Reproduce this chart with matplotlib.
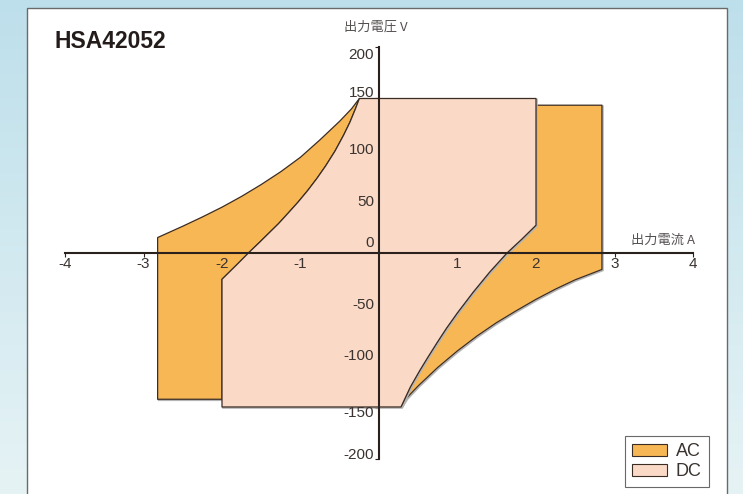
import numpy as np
import matplotlib
matplotlib.use("Agg")
import matplotlib.pyplot as plt
from matplotlib.patches import Polygon, Rectangle, Patch
import matplotlib.transforms as mtransforms

# ---------------- data ----------------
x_ticks = [-4, -3, -2, -1, 1, 2, 3, 4]
y_ticks = [200, 150, 100, 50, 0, -50, -100, -150, -200]

# AC region, upper-left outer boundary (current A, voltage V), top corner -> left edge
ac_ul_outer_i = [-0.25, -0.35, -0.50, -0.75, -1.00, -1.25, -1.50, -1.75, -2.00, -2.25, -2.50, -2.82]
ac_ul_outer_v = [150, 140, 128, 110, 93, 79, 66.5, 55, 44.5, 35, 26, 15]
ac_left_i = -2.82
ac_left_bottom_v = -142

# DC region inner boundary, upper-left (top corner -> DC left edge)
dc_ul_inner_i = [-0.25, -0.30, -0.37, -0.45, -0.56, -0.68, -0.79, -0.91, -1.03, -1.16, -1.28, -1.40, -1.52, -1.65, -1.82, -2.00]
dc_ul_inner_v = [150, 140, 127, 114.5, 99, 84.5, 72.5, 60.5, 49.5, 38.5, 28.5, 19.5, 10.5, 1, -12, -25.5]

# DC region inner boundary, lower-right (DC right edge -> bottom corner)
dc_lr_inner_i = [2.00, 1.82, 1.63, 1.41, 1.20, 1.00, 0.86, 0.74, 0.62, 0.52, 0.40, 0.28]
dc_lr_inner_v = [27, 13.5, 0, -18.5, -38, -58, -73, -87, -101.5, -114, -130, -149.5]

# AC region, lower-right outer boundary (bottom corner -> right edge)
ac_lr_outer_i = [0.28, 0.35, 0.50, 0.75, 1.00, 1.25, 1.50, 1.75, 2.00, 2.25, 2.50, 2.84]
ac_lr_outer_v = [-149.5, -141, -129, -111, -95, -80.5, -67.5, -56, -45, -35, -26, -16]
ac_right_i = 2.84
ac_right_top_v = 143.5

dc_top_v = 150
dc_bottom_v = -149.5
dc_left_i = -2.0
dc_right_i = 2.0

AC_COLOR = "#F7B755"
DC_COLOR = "#FADAC7"
EDGE = "#3b2c24"
TEXT = "#3a3330"

# ---------------- figure ----------------
fig = plt.figure(figsize=(7.43, 4.94), dpi=100)

# gradient background
bg = fig.add_axes([0, 0, 1, 1], zorder=-10)
top = np.array([0xBD, 0xDF, 0xEB]) / 255
bot = np.array([0xE6, 0xF3, 0xF5]) / 255
t = np.linspace(0, 1, 256)[:, None]
grad = top[None, :] * (1 - t) + bot[None, :] * t
bg.imshow(grad[:, None, :].repeat(2, axis=1), aspect="auto", extent=[0, 1, 0, 1])
bg.set_xlim(0, 1); bg.set_ylim(0, 1)
bg.axis("off")

W, H = 743, 494
panel = Rectangle((27 / W, -0.02), (727 - 27) / W, (H - 8) / H + 0.02,
                  transform=fig.transFigure, facecolor="white",
                  edgecolor="#6a6a6a", lw=1.0, zorder=-5)
fig.patches.append(panel)

ax = fig.add_axes([65 / W, 35 / H, 628 / W, 412 / H])
ax.set_xlim(-4, 4)
ax.set_ylim(-200, 200)
ax.patch.set_alpha(0)
for s in ["top", "right"]:
    ax.spines[s].set_visible(False)
ax.spines["left"].set_position("zero")
ax.spines["bottom"].set_position("zero")
for s in ["left", "bottom"]:
    ax.spines[s].set_color("#2a201c")
    ax.spines[s].set_linewidth(1.5)
    ax.spines[s].set_zorder(5)
ax.set_xticks(x_ticks)
ax.set_yticks(y_ticks)
ax.tick_params(direction="out", length=3, width=0.8, colors="#2a201c",
               labelbottom=False, labelleft=False)

ac_left = (list(zip(ac_ul_outer_i, ac_ul_outer_v)) +
           [(ac_left_i, ac_left_bottom_v), (dc_left_i, ac_left_bottom_v)] +
           list(zip(dc_ul_inner_i[::-1], dc_ul_inner_v[::-1])))
ac_right = ([(dc_right_i, ac_right_top_v), (ac_right_i, ac_right_top_v)] +
            list(zip(ac_lr_outer_i[::-1], ac_lr_outer_v[::-1])) +
            list(zip(dc_lr_inner_i[::-1], dc_lr_inner_v[::-1])))
dc = ([(dc_ul_inner_i[0], dc_top_v), (dc_right_i, dc_top_v)] +
      list(zip(dc_lr_inner_i, dc_lr_inner_v)) +
      [(dc_left_i, dc_bottom_v)] +
      list(zip(dc_ul_inner_i[::-1], dc_ul_inner_v[::-1])))

# faint drop shadow of outlines
shadow_tr = mtransforms.offset_copy(ax.transData, fig=fig, x=1.0, y=-1.0, units="dots")
for poly, z in [(ac_left, 1.5), (ac_right, 1.5), (dc, 2.5)]:
    ax.add_patch(Polygon(poly, closed=True, facecolor="none", edgecolor="#b5b5b5",
                         lw=1.2, transform=shadow_tr, zorder=z))

ax.add_patch(Polygon(ac_left, closed=True, facecolor=AC_COLOR, edgecolor=EDGE, lw=0.9,
                     joinstyle="round", zorder=2))
ax.add_patch(Polygon(ac_right, closed=True, facecolor=AC_COLOR, edgecolor=EDGE, lw=0.9,
                     joinstyle="round", zorder=2))
ax.add_patch(Polygon(dc, closed=True, facecolor=DC_COLOR, edgecolor=EDGE, lw=0.9,
                     joinstyle="round", zorder=3))

# tick labels
num_font = dict(family="Liberation Sans", fontsize=11, color=TEXT)
for xv in x_ticks:
    tr = mtransforms.offset_copy(ax.transData, fig=fig, x=0, y=-3, units="points")
    ax.text(xv, 0, f"{xv}", transform=tr, ha="center", va="top", zorder=6, **num_font)

y_off = {200: -6, 150: 4, 100: 0, 50: 0, 0: 7, -50: 0, -100: 0, -150: -4, -200: 3}
for yv in y_ticks:
    tr = mtransforms.offset_copy(ax.transData, fig=fig, x=-3.5, y=y_off[yv], units="points")
    ax.text(0, yv, f"{yv}", transform=tr, ha="right", va="center", zorder=6, **num_font)

jp = ["Noto Sans CJK JP", "DejaVu Sans"]
fig.text(376 / W, 1 - 27 / H, "出力電圧 V", family=jp, fontsize=9.5, color="#555050",
         ha="center", va="center")
fig.text(695 / W, 1 - 240 / H, "出力電流 A", family=jp, fontsize=9.5, color="#555050",
         ha="right", va="center")
fig.text(54 / W, 1 - 41 / H, "HSA42052", family="Liberation Sans", fontsize=16.5,
         fontweight="bold", color="#231c1a", ha="left", va="center")

handles = [Patch(facecolor=AC_COLOR, edgecolor=EDGE, lw=0.8, label="AC"),
           Patch(facecolor=DC_COLOR, edgecolor=EDGE, lw=0.8, label="DC")]
leg = fig.legend(handles=handles, loc="upper left", bbox_to_anchor=(625 / W, 1 - 436 / H),
                 borderaxespad=0, frameon=True, fancybox=False,
                 handlelength=1.9, handleheight=0.65, handletextpad=0.5,
                 labelspacing=0.15, borderpad=0.4,
                 prop={"family": "Liberation Sans", "size": 13})
leg.get_frame().set_edgecolor("#444444")
leg.get_frame().set_linewidth(0.8)
for txt in leg.get_texts():
    txt.set_color(TEXT)

fig.savefig("out.png", dpi=100)
